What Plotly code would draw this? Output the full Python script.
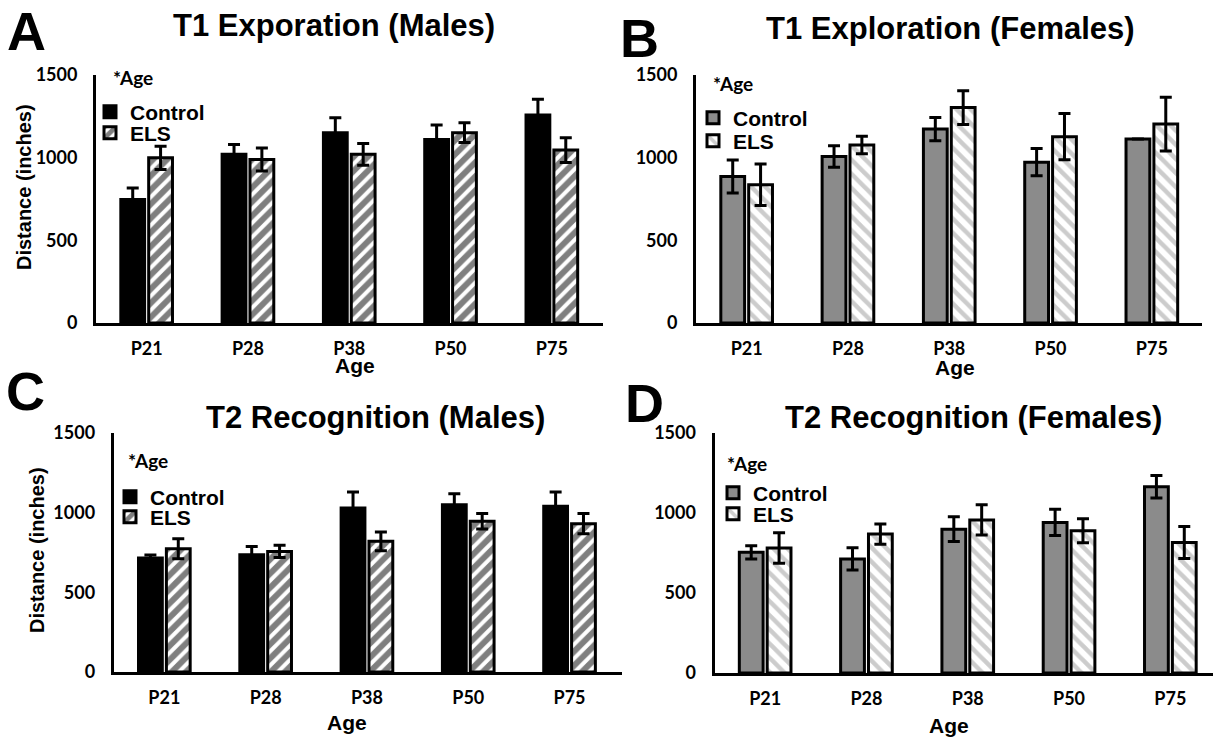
import plotly.graph_objects as go

# ---------------- data ----------------
ages = ["P21", "P28", "P38", "P50", "P75"]

# A: T1 Exploration, males
a_control = [747, 1020, 1151, 1110, 1258]
a_control_err = [70, 60, 90, 87, 95]
a_els = [999, 989, 1020, 1151, 1046]
a_els_err = [70, 70, 66, 60, 75]

# B: T1 Exploration, females (P75 control has no error bar)
b_control = [886, 1007, 1173, 973, 1113]
b_control_err = [100, 65, 70, 83, None]
b_els = [836, 1077, 1303, 1127, 1203]
b_els_err = [125, 53, 102, 140, 162]

# C: T2 Recognition, males
c_control = [715, 736, 1029, 1050, 1040]
c_control_err = [20, 52, 100, 69, 90]
c_els = [774, 757, 820, 946, 931]
c_els_err = [63, 38, 59, 48, 63]

# D: T2 Recognition, females
d_control = [754, 713, 899, 941, 1164]
d_control_err = [41, 70, 77, 82, 70]
d_els = [781, 868, 957, 889, 816]
d_els_err = [95, 64, 95, 75, 100]

y_ticks = [0, 500, 1000, 1500]

# ---------------- layout helpers ----------------
W, H = 1213, 737
CAT_PX = 101.3


def fx(px):
    return px / W


def fy(py):
    return 1 - py / H


ARIAL = "Liberation Sans, Arial, sans-serif"
CALI = "Lato, Carlito, sans-serif"

panels = [
    dict(letter="A", title="T1 Exporation (Males)", ctrl=a_control, ctrl_err=a_control_err,
         els=a_els, els_err=a_els_err, female=False, x0=96, x1=603, y0=75, y1=323,
         ytitle=(24, 187), letter_xy=(26, 31), title_xy=(334, 26), age_note=(111, 78),
         xtitle=(355, 366), leg_x=113, leg_y=(112, 133)),
    dict(letter="B", title="T1 Exploration (Females)", ctrl=b_control, ctrl_err=b_control_err,
         els=b_els, els_err=b_els_err, female=True, x0=696, x1=1202, y0=75, y1=323,
         ytitle=None, letter_xy=(639, 38), title_xy=(950, 28), age_note=(711, 83),
         xtitle=(955, 368), leg_x=716, leg_y=(118, 141)),
    dict(letter="C", title="T2 Recognition (Males)", ctrl=c_control, ctrl_err=c_control_err,
         els=c_els, els_err=c_els_err, female=False, x0=113.7, x1=622, y0=433, y1=672,
         ytitle=(37, 550), letter_xy=(25, 391), title_xy=(375, 417), age_note=(126, 460),
         xtitle=(347, 722), leg_x=133, leg_y=(497, 517)),
    dict(letter="D", title="T2 Recognition (Females)", ctrl=d_control, ctrl_err=d_control_err,
         els=d_els, els_err=d_els_err, female=True, x0=714.5, x1=1213, y0=433, y1=673,
         ytitle=None, letter_xy=(644, 403), title_xy=(973, 417), age_note=(725, 463),
         xtitle=(949, 725), leg_x=736, leg_y=(493, 514)),
]

fig = go.Figure()
annotations = []
layout_updates = {}


def ann(text, x, y, size, family=ARIAL, xanchor="center", textangle=0):
    annotations.append(dict(
        text=text, x=fx(x), y=fy(y), xref="paper", yref="paper",
        xanchor=xanchor, yanchor="middle", showarrow=False, textangle=textangle,
        font=dict(family=family, size=size, color="black", weight="bold"),
    ))


for i, p in enumerate(panels):
    n = "" if i == 0 else str(i + 1)
    xa, ya = "x" + n, "y" + n
    leg_c = "legend" + ("" if i == 0 else str(2 * i + 1))
    leg_e = "legend" + str(2 * i + 2)
    if p["female"]:
        ctrl_color = "#8b8b8b"
        pat = dict(shape="\\", fgcolor="#999999", bgcolor="white", size=10, solidity=0.45)
    else:
        ctrl_color = "black"
        pat = dict(shape="/", fgcolor="black", bgcolor="white", size=10, solidity=0.6)

    err_style = dict(type="data", color="black", thickness=3, width=6, visible=True)
    fig.add_trace(go.Bar(
        x=ages, y=p["ctrl"], name="Control", xaxis=xa, yaxis=ya, legend=leg_c,
        width=0.235, offset=-0.255,
        marker=dict(color=ctrl_color, line=dict(color="black", width=3)),
        error_y=dict(array=p["ctrl_err"], **err_style),
    ))
    fig.add_trace(go.Bar(
        x=ages, y=p["els"], name="ELS", xaxis=xa, yaxis=ya, legend=leg_e,
        width=0.235, offset=0.02,
        marker=dict(color="white", line=dict(color="black", width=3), pattern=pat),
        error_y=dict(array=p["els_err"], **err_style),
    ))

    x_range = [-0.5, -0.5 + (p["x1"] - p["x0"]) / CAT_PX]
    layout_updates["xaxis" + n] = dict(
        domain=[fx(p["x0"]), min(1.0, fx(p["x1"]))], anchor=ya, type="category",
        range=x_range, showline=True, linewidth=3, linecolor="black", ticks="",
        showgrid=False, zeroline=False, ticklabelstandoff=7, automargin=False,
        tickfont=dict(family=CALI, size=18, color="black", weight="bold"),
    )
    layout_updates["yaxis" + n] = dict(
        domain=[fy(p["y1"]), fy(p["y0"])], anchor=xa, range=[0, 1500],
        tickvals=y_ticks, showline=True, linewidth=3, linecolor="black", ticks="",
        showgrid=False, zeroline=False, ticklabelstandoff=12, automargin=False,
        tickfont=dict(family=CALI, size=18, color="black", weight="bold"),
    )

    for leg, ly in ((leg_c, p["leg_y"][0]), (leg_e, p["leg_y"][1])):
        layout_updates[leg] = dict(
            x=fx(p["leg_x"] - 23), y=fy(ly), xanchor="left", yanchor="middle",
            bgcolor="rgba(0,0,0,0)", borderwidth=0,
            font=dict(family=ARIAL, size=21, color="black", weight="bold"),
            itemwidth=30,
        )

    ann(p["letter"], *p["letter_xy"], size=54)
    ann(p["title"], *p["title_xy"], size=31)
    ann("*Age", *p["age_note"], size=19, family=CALI, xanchor="left")
    ann("Age", *p["xtitle"], size=21)
    if p["ytitle"]:
        ann("Distance (inches)", *p["ytitle"], size=20, textangle=-90)

fig.update_layout(
    width=W, height=H, margin=dict(l=0, r=0, t=0, b=0, autoexpand=False),
    paper_bgcolor="white", plot_bgcolor="white",
    barmode="overlay", showlegend=True, annotations=annotations,
    **layout_updates,
)

fig.write_html("out.html", config={"displayModeBar": False},
               post_script="document.body.style.margin='0px';")
